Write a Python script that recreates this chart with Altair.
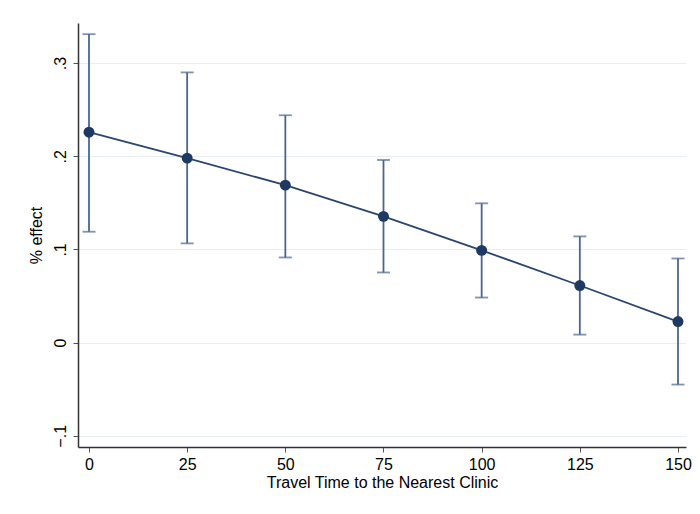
import altair as alt
import pandas as pd

travel = [0, 25, 50, 75, 100, 125, 150]
effect = [0.2258, 0.198, 0.169, 0.1355, 0.099, 0.0613, 0.0226]
upper = [0.331, 0.290, 0.244, 0.196, 0.1495, 0.114, 0.0903]
lower = [0.119, 0.1065, 0.0914, 0.0753, 0.0484, 0.0086, -0.045]

df = pd.DataFrame({"t": travel, "e": effect, "hi": upper, "lo": lower})

FONT = "Liberation Sans"
xs = alt.Scale(domain=[-2.8, 152.04], nice=False, zero=False)
ys = alt.Scale(domain=[-0.112, 0.343], nice=False, zero=False)

xax = alt.Axis(values=travel, title="Travel Time to the Nearest Clinic", grid=False,
               labelFontSize=16, titleFontSize=16, labelFont=FONT, titleFont=FONT,
               labelColor="black", titleColor="black", domainColor="#333333",
               tickColor="#555555", tickSize=5, domainWidth=1.5, labelPadding=4,
               titlePadding=2, titleFontWeight="normal")
yax = alt.Axis(values=[-0.1, 0, 0.1, 0.2, 0.3], title="% effect",
               labelExpr="datum.value == 0 ? '0' : replace(format(datum.value, '.1f'), '0.', '.')",
               grid=True, gridColor="#e6edf3", gridWidth=1,
               labelAngle=270, labelAlign="center", labelBaseline="bottom",
               labelFontSize=16, titleFontSize=16, labelFont=FONT, titleFont=FONT,
               labelColor="black", titleColor="black", domainColor="#333333",
               tickColor="#555555", tickSize=5, domainWidth=1.5, labelPadding=5,
               titlePadding=8, titleFontWeight="normal")

base = alt.Chart(df)

bars = base.mark_rule(color="#4a6690", strokeWidth=1.8).encode(
    x=alt.X("t:Q", scale=xs, axis=xax),
    y=alt.Y("lo:Q", scale=ys, axis=yax),
    y2="hi:Q",
)
caps_hi = base.mark_tick(color="#4a6690", thickness=1.8, size=13, orient="horizontal").encode(
    x=alt.X("t:Q", scale=xs), y=alt.Y("hi:Q", scale=ys))
caps_lo = base.mark_tick(color="#4a6690", thickness=1.8, size=13, orient="horizontal").encode(
    x=alt.X("t:Q", scale=xs), y=alt.Y("lo:Q", scale=ys))
line = base.mark_line(color="#2a4670", strokeWidth=1.8).encode(
    x=alt.X("t:Q", scale=xs), y=alt.Y("e:Q", scale=ys))
pts = base.mark_circle(color="#1f3a62", opacity=1, size=120).encode(
    x=alt.X("t:Q", scale=xs), y=alt.Y("e:Q", scale=ys))

chart = alt.layer(bars, caps_hi, caps_lo, line, pts).properties(
    width=608, height=424,
    autosize=alt.AutoSizeParams(type="none"),
    padding={"left": 70, "top": 15, "right": 6, "bottom": 59},
    background="white",
).configure_view(stroke=None)

chart.save("out.html", embed_options={"renderer": "svg", "actions": False})
